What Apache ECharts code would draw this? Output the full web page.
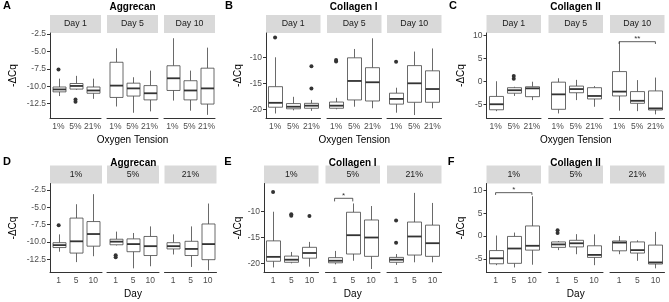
<!DOCTYPE html>
<html>
<head>
<meta charset="utf-8">
<script src="https://cdn.jsdelivr.net/npm/echarts@6/dist/echarts.min.js"></script>
<style>
  html, body { margin: 0; padding: 0; background: #fff; }
  #chart { width: 669px; height: 302px; }
</style>
</head>
<body>
<div id="chart"></div>
<script>
// boxes are [lower whisker, Q1, median, Q3, upper whisker], in the order 1%, 5%, 21%
const oxygenLevels = ['1%', '5%', '21%'];
const dayLevels = ['1', '5', '10'];
const dayStrips = ['Day 1', 'Day 5', 'Day 10'];

const aggrecanDay1 = [[-11.4, -10.8, -10.45, -10.1, -8.9], [-10.5, -10.4, -9.95, -9.6, -8.5], [-11.8, -11.0, -10.6, -10.1, -8.9]];
const aggrecanDay5 = [[-12.9, -11.6, -9.9, -6.55, -4.55], [-13.8, -11.4, -10.3, -9.55, -8.7], [-13.6, -11.95, -11.0, -9.9, -7.75]];
const aggrecanDay10 = [[-12.05, -10.6, -8.85, -7.05, -3.1], [-13.5, -11.95, -10.6, -9.2, -7.75], [-14.1, -12.55, -10.3, -7.4, -4.45]];
// outliers: [day index, oxygen index, value]
const aggrecanOutliers = [[0, 0, -7.6], [0, 1, -11.9], [0, 1, -12.2]];

const collagen1Day1 = [[-20.8, -19.6, -18.75, -15.65, -10.0], [-20.2, -19.9, -19.5, -18.9, -17.6], [-20.3, -19.8, -19.3, -18.85, -18.2]];
const collagen1Day5 = [[-20.0, -19.8, -19.3, -18.6, -17.8], [-19.5, -18.2, -14.55, -10.1, -8.4], [-19.8, -18.4, -14.8, -12.0, -6.35]];
const collagen1Day10 = [[-20.65, -19.0, -18.0, -16.9, -15.85], [-21.1, -18.65, -15.0, -11.6, -8.9], [-19.8, -18.65, -16.1, -12.6, -8.3]];
const collagen1Outliers = [[0, 0, -6.2], [0, 2, -11.7], [0, 2, -16.0], [1, 0, -10.5], [1, 0, -10.8], [2, 0, -10.85]];

const collagen2Day1 = [[-6.4, -6.1, -4.9, -3.2, 0.1], [-3.1, -2.5, -1.85, -1.3, -1.1], [-4.0, -3.25, -1.45, -1.1, 0.0]];
const collagen2Day5 = [[-6.9, -6.0, -2.75, -0.1, 0.75], [-4.0, -2.4, -1.6, -0.95, 0.4], [-5.45, -3.75, -3.1, -1.3, -0.95]];
const collagen2Day10 = [[-6.3, -3.1, -2.15, 2.2, 8.7], [-6.4, -4.7, -4.15, -2.15, 0.35], [-7.1, -6.15, -5.8, -2.0, 0.9]];
const collagen2Outliers = [[0, 1, 1.25], [0, 1, 0.65]];

const aggrecanTicks = [-12.5, -10, -7.5, -5, -2.5];
const collagen1Ticks = [-20, -15, -10];
const collagen2Ticks = [-5, 0, 5, 10];

// significance brackets: facet, from/to category, bar height, tip end
const bracketC = { facet: 2, from: 0, to: 2, y: 8.7, tip: 8.2, label: '**' };
const bracketE = { facet: 1, from: 0, to: 1, y: -7.4, tip: -8.0, label: '*' };
const bracketF = { facet: 0, from: 0, to: 2, y: 9.5, tip: 9.0, label: '*' };

const genes = {
  aggrecan: { name: 'Aggrecan', boxes: [aggrecanDay1, aggrecanDay5, aggrecanDay10], outliers: aggrecanOutliers, ticks: aggrecanTicks, fmt: (v) => v.toFixed(1) },
  collagen1: { name: 'Collagen I', boxes: [collagen1Day1, collagen1Day5, collagen1Day10], outliers: collagen1Outliers, ticks: collagen1Ticks, fmt: (v) => String(v) },
  collagen2: { name: 'Collagen II', boxes: [collagen2Day1, collagen2Day5, collagen2Day10], outliers: collagen2Outliers, ticks: collagen2Ticks, fmt: (v) => String(v) },
};

const panels = [
  { letter: 'A', letterX: 7, gene: 'aggrecan', facetBy: 'day', lefts: [50, 107, 164], width: 51, top: 33, height: 85, min: -14.55, max: -2.35, yTitleX: 13 },
  { letter: 'B', letterX: 229, gene: 'collagen1', facetBy: 'day', lefts: [266, 327, 387], width: 54.5, top: 33, height: 85, min: -21.67, max: -5.33, yTitleX: 238 },
  { letter: 'C', letterX: 453, gene: 'collagen2', facetBy: 'day', lefts: [486.5, 548.5, 610], width: 54.5, top: 33, height: 85, min: -7.89, max: 10.59, yTitleX: 461, bracket: bracketC },
  { letter: 'D', letterX: 7, gene: 'aggrecan', facetBy: 'oxygen', lefts: [50, 107, 164.5], width: 52, top: 183.5, height: 89, min: -14.4, max: -1.56, yTitleX: 13 },
  { letter: 'E', letterX: 228, gene: 'collagen1', facetBy: 'oxygen', lefts: [264, 325.5, 387], width: 54.5, top: 183.5, height: 89, min: -21.78, max: -4.53, yTitleX: 238, bracket: bracketE },
  { letter: 'F', letterX: 451, gene: 'collagen2', facetBy: 'oxygen', lefts: [486.5, 548.5, 610], width: 54.5, top: 183.5, height: 89, min: -8.01, max: 11.51, yTitleX: 461, bracket: bracketF },
];

const FONT = '"Liberation Sans", Arial, sans-serif';
const AXIS = '#333333';

function renderBox(params, api) {
  const x = api.value(0);
  const bw = Math.round(api.size([1, 0])[0] * 0.75);
  const lo = api.coord([x, api.value(1)]);
  const q1 = api.coord([x, api.value(2)]);
  const med = api.coord([x, api.value(3)]);
  const q3 = api.coord([x, api.value(4)]);
  const hi = api.coord([x, api.value(5)]);
  const cx = Math.round(lo[0]) + 0.5;
  const thin = { stroke: '#444', lineWidth: 0.8 };
  return {
    type: 'group',
    children: [
      { type: 'line', shape: { x1: cx, y1: hi[1], x2: cx, y2: q3[1] }, style: thin },
      { type: 'line', shape: { x1: cx, y1: q1[1], x2: cx, y2: lo[1] }, style: thin },
      { type: 'rect', shape: { x: cx - bw / 2, y: q3[1], width: bw, height: q1[1] - q3[1] }, style: { fill: '#fff', stroke: '#444', lineWidth: 0.8 } },
      { type: 'line', shape: { x1: cx - bw / 2, y1: med[1], x2: cx + bw / 2, y2: med[1] }, style: { stroke: '#333', lineWidth: 1.8 } },
    ],
  };
}

function bracketRenderer(label) {
  return function (params, api) {
    const a = api.coord([api.value(0), api.value(2)]);
    const b = api.coord([api.value(1), api.value(2)]);
    const ta = api.coord([api.value(0), api.value(3)]);
    return {
      type: 'group',
      children: [
        { type: 'polyline', shape: { points: [[a[0], ta[1]], a, b, [b[0], ta[1]]] }, style: { stroke: '#333', lineWidth: 0.8, fill: null } },
        { type: 'text', x: (a[0] + b[0]) / 2, y: a[1] + 1, style: { text: label, fontSize: 8, fill: '#333', align: 'center', verticalAlign: 'bottom', fontFamily: FONT } },
      ],
    };
  };
}

const grid = [], xAxis = [], yAxis = [], series = [], graphic = [];

panels.forEach((p) => {
  const gene = genes[p.gene];
  const facetNames = p.facetBy === 'day' ? dayStrips : oxygenLevels;
  const categories = p.facetBy === 'day' ? oxygenLevels : dayLevels;
  const right = p.lefts[2] + p.width;
  const rowTop = p.top - 18;

  facetNames.forEach((facetName, f) => {
    const idx = grid.length;
    grid.push({ left: p.lefts[f], top: p.top, width: p.width, height: p.height });
    xAxis.push({
      gridIndex: idx, type: 'category', data: categories,
      axisLine: { onZero: false, lineStyle: { color: AXIS, width: 1 } },
      axisTick: { alignWithLabel: true, length: 3, lineStyle: { color: AXIS } },
      axisLabel: { interval: 0, hideOverlap: false, margin: 4, fontSize: 8.5, color: '#4d4d4d', fontFamily: FONT },
      splitLine: { show: false },
    });
    yAxis.push({
      gridIndex: idx, type: 'value', min: p.min, max: p.max,
      axisLine: { show: f === 0, lineStyle: { color: AXIS, width: 1 } },
      axisTick: { show: f === 0, length: 3, customValues: gene.ticks, lineStyle: { color: AXIS } },
      axisLabel: { show: f === 0, customValues: gene.ticks, formatter: gene.fmt, margin: 4, fontSize: 8.5, color: '#4d4d4d', fontFamily: FONT },
      splitLine: { show: false },
    });

    const dayOf = (k) => (p.facetBy === 'day' ? f : k);
    const oxOf = (k) => (p.facetBy === 'day' ? k : f);
    const boxData = categories.map((c, k) => [k].concat(gene.boxes[dayOf(k)][oxOf(k)]));
    series.push({
      type: 'custom', xAxisIndex: idx, yAxisIndex: idx, silent: true,
      renderItem: renderBox, data: boxData, encode: { x: 0, y: [1, 2, 3, 4, 5] },
    });

    const pts = gene.outliers
      .filter((o) => (p.facetBy === 'day' ? o[0] === f : o[1] === f))
      .map((o) => [p.facetBy === 'day' ? o[1] : o[0], o[2]]);
    if (pts.length) {
      series.push({
        type: 'scatter', xAxisIndex: idx, yAxisIndex: idx, silent: true,
        data: pts, symbolSize: 4, itemStyle: { color: '#333', opacity: 1 },
      });
    }

    if (p.bracket && p.bracket.facet === f) {
      const br = p.bracket;
      series.push({
        type: 'custom', xAxisIndex: idx, yAxisIndex: idx, silent: true,
        renderItem: bracketRenderer(br.label),
        data: [[br.from, br.to, br.y, br.tip]], encode: { x: [0, 1], y: [2, 3] },
      });
    }

    // facet strip
    graphic.push({ type: 'rect', shape: { x: p.lefts[f], y: rowTop, width: p.width, height: 18 }, style: { fill: '#d9d9d9' }, silent: true });
    graphic.push({ type: 'text', x: p.lefts[f] + p.width / 2, y: rowTop + 9, style: { text: facetName, fontSize: 8.8, fill: '#1a1a1a', align: 'center', verticalAlign: 'middle', fontFamily: FONT }, silent: true });
  });

  // panel title, letter, axis titles
  const titleY = p.top < 100 ? 7.5 : 163.5;
  graphic.push({ type: 'text', x: (p.lefts[0] + right) / 2, y: titleY, style: { text: gene.name, fontSize: 10, fontWeight: 'bold', fill: '#000', align: 'center', verticalAlign: 'middle', fontFamily: FONT } });
  graphic.push({ type: 'text', x: p.letterX, y: titleY - 2, style: { text: p.letter, fontSize: 11, fontWeight: 'bold', fill: '#000', align: 'center', verticalAlign: 'middle', fontFamily: FONT } });
  graphic.push({ type: 'text', x: p.yTitleX, y: p.top + p.height / 2, rotation: Math.PI / 2, style: { text: '-\u0394Cq', fontSize: 10, fill: '#000', align: 'center', verticalAlign: 'middle', fontFamily: FONT } });
  graphic.push({ type: 'text', x: p.lefts[1] + p.width / 2, y: p.top + p.height + 22, style: { text: p.facetBy === 'day' ? 'Oxygen Tension' : 'Day', fontSize: 10, fill: '#000', align: 'center', verticalAlign: 'middle', fontFamily: FONT } });
});

const chart = echarts.init(document.getElementById('chart'));
chart.setOption({
  animation: false,
  textStyle: { fontFamily: FONT },
  grid, xAxis, yAxis, series, graphic,
});
</script>
</body>
</html>
